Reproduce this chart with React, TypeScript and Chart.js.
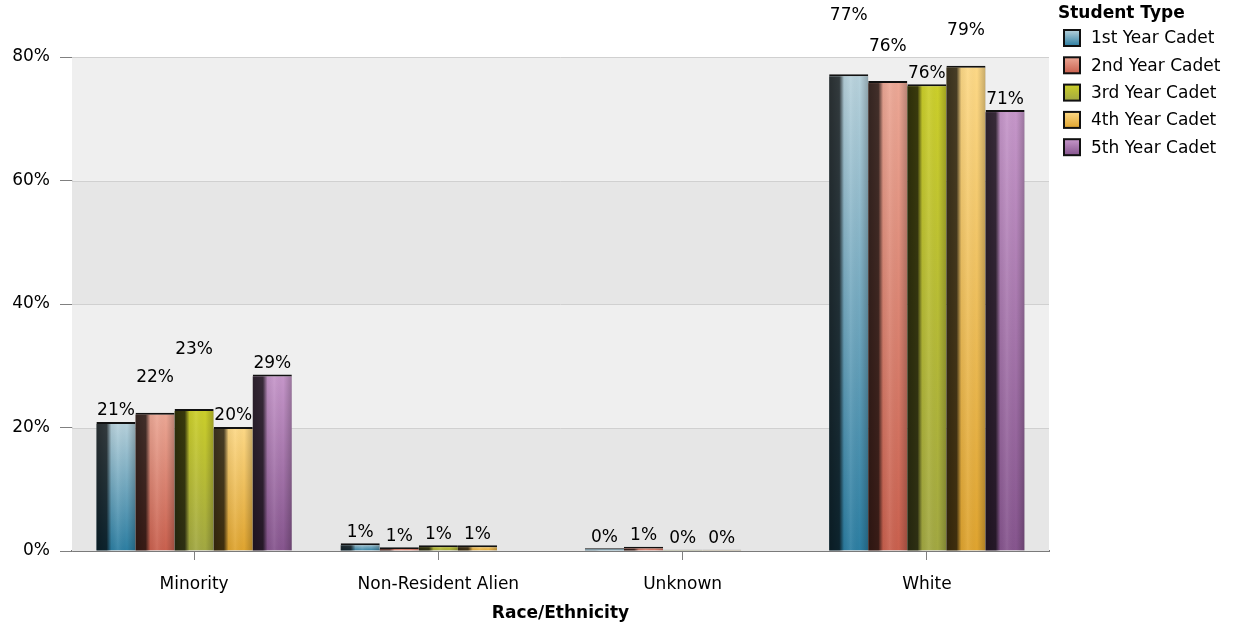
import React, { useEffect, useRef } from 'react';
import { Chart, registerables } from 'chart.js';

Chart.register(...registerables);

const categories = ['Minority', 'Non-Resident Alien', 'Unknown', 'White'];
const seriesNames = ['1st Year Cadet', '2nd Year Cadet', '3rd Year Cadet', '4th Year Cadet', '5th Year Cadet'];
const firstYear = [20.9, 1.25, 0.43, 77.2];
const secondYear = [22.4, 0.6, 0.7, 76.1];
const thirdYear = [23.0, 0.95, 0.2, 75.6];
const fourthYear = [20.1, 0.95, 0.2, 78.6];
const fifthYear: (number | null)[] = [28.6, null, null, 71.4];
const yTickValues = [0, 20, 40, 60, 80];

// styles (kept separate from the data)
const palette = [
  { top: '#b8d2dc', bottom: '#2c7ea2', legend: '#6ea2b8' },
  { top: '#eca896', bottom: '#c9604e', legend: '#d98574' },
  { top: '#cccf2a', bottom: '#a2a842', legend: '#b2b632' },
  { top: '#fdd987', bottom: '#dfa42f', legend: '#eec260' },
  { top: '#c697ca', bottom: '#86558e', legend: '#a675ad' },
];
// stacking level of each value label (per series, per category) to avoid overlap
const labelLevels = [
  [0, 0, 0, 2],
  [1, 0, 0, 1],
  [2, 0, 0, 0],
  [0, 0, 0, 1],
  [0, 0, 0, 0],
];
const FONT = '"DejaVu Sans", Verdana, sans-serif';
const FS = 17;

const seriesData = [firstYear, secondYear, thirdYear, fourthYear, fifthYear];

const bandsPlugin = {
  id: 'bands',
  beforeDatasetsDraw(chart: any) {
    const { ctx, chartArea, scales } = chart;
    const y = scales.y;
    ctx.save();
    for (let i = 0; i < yTickValues.length - 1; i++) {
      const y0 = y.getPixelForValue(yTickValues[i]);
      const y1 = y.getPixelForValue(yTickValues[i + 1]);
      ctx.fillStyle = i % 2 === 0 ? '#e6e6e6' : '#efefef';
      ctx.fillRect(chartArea.left, y1, chartArea.right - chartArea.left, y0 - y1);
      ctx.strokeStyle = '#d0d0d0';
      ctx.lineWidth = 1;
      ctx.beginPath();
      ctx.moveTo(chartArea.left, Math.round(y1) + 0.5);
      ctx.lineTo(chartArea.right, Math.round(y1) + 0.5);
      ctx.stroke();
    }
    ctx.restore();
  },
};

const shadePlugin = {
  id: 'shade',
  afterDatasetsDraw(chart: any) {
    const { ctx } = chart;
    ctx.save();
    chart.data.datasets.forEach((ds: any, di: number) => {
      const meta = chart.getDatasetMeta(di);
      meta.data.forEach((el: any, i: number) => {
        const v = ds.data[i];
        if (v === null || v === undefined) return;
        const p = el.getProps(['x', 'y', 'base', 'width'], true);
        const left = p.x - p.width / 2;
        const top = Math.min(p.y, p.base) + 2;
        const h = Math.abs(p.base - p.y) - 2;
        if (h <= 0) return;
        const g = ctx.createLinearGradient(left, 0, left + p.width, 0);
        g.addColorStop(0, 'rgba(0,0,0,0.78)');
        g.addColorStop(0.26, 'rgba(0,0,0,0.72)');
        g.addColorStop(0.38, 'rgba(0,0,0,0.05)');
        g.addColorStop(0.55, 'rgba(255,255,255,0.08)');
        g.addColorStop(0.78, 'rgba(0,0,0,0.0)');
        g.addColorStop(1, 'rgba(0,0,0,0.22)');
        ctx.fillStyle = g;
        ctx.fillRect(left, top, p.width, h);
      });
    });
    ctx.restore();
  },
};

const labelPlugin = {
  id: 'valueLabels',
  afterDatasetsDraw(chart: any) {
    const { ctx } = chart;
    ctx.save();
    ctx.font = `${FS}px ${FONT}`;
    ctx.fillStyle = '#000';
    ctx.textAlign = 'center';
    ctx.textBaseline = 'middle';
    chart.data.datasets.forEach((ds: any, di: number) => {
      const meta = chart.getDatasetMeta(di);
      meta.data.forEach((el: any, i: number) => {
        const v = ds.data[i];
        if (v === null || v === undefined) return;
        const p = el.getProps(['x', 'y'], true);
        const lvl = labelLevels[di][i] || 0;
        ctx.fillText(Math.round(v) + '%', p.x, p.y - 11 - lvl * 24);
      });
    });
    ctx.restore();
  },
};

const legendPlugin = {
  id: 'customLegend',
  afterDraw(chart: any) {
    const { ctx } = chart;
    ctx.save();
    ctx.fillStyle = '#000';
    ctx.textBaseline = 'middle';
    ctx.textAlign = 'left';
    ctx.font = `bold ${FS}px ${FONT}`;
    ctx.fillText('Student Type', 1058, 14);
    ctx.font = `${FS}px ${FONT}`;
    seriesNames.forEach((name, i) => {
      const cy = 38 + i * 27.3;
      const g = ctx.createLinearGradient(0, cy - 8, 0, cy + 8);
      g.addColorStop(0, palette[i].top);
      g.addColorStop(1, palette[i].bottom);
      ctx.fillStyle = g;
      ctx.fillRect(1064, cy - 8, 16, 16);
      ctx.strokeStyle = '#111';
      ctx.lineWidth = 2;
      ctx.strokeRect(1064, cy - 8, 16, 16);
      ctx.fillStyle = '#000';
      ctx.fillText(name, 1091, cy + 1);
    });
    ctx.restore();
  },
};

export default function App() {
  const ref = useRef<HTMLCanvasElement>(null);
  useEffect(() => {
    document.body.style.margin = '0';
    if (!ref.current) return;
    const chart = new Chart(ref.current, {
      type: 'bar',
      data: {
        labels: categories,
        datasets: seriesData.map((d, i) => ({
          label: seriesNames[i],
          data: d,
          backgroundColor: (c: any) => {
            const ch = c.chart;
            const ys = ch.scales && ch.scales.y;
            const v = c.raw;
            if (!ys || v === null || v === undefined || !ch.chartArea) return palette[i].legend;
            const t = ys.getPixelForValue(v);
            const b = ys.getPixelForValue(0);
            if (!isFinite(t) || !isFinite(b) || b - t < 1) return palette[i].bottom;
            const g = ch.ctx.createLinearGradient(0, t, 0, b);
            g.addColorStop(0, palette[i].top);
            g.addColorStop(1, palette[i].bottom);
            return g;
          },
          borderColor: '#111',
          borderWidth: { top: 2, left: 0, right: 0, bottom: 0 },
          borderSkipped: 'start',
          categoryPercentage: 0.8,
          barPercentage: 1.0,
        })),
      },
      options: {
        animation: false,
        responsive: false,
        maintainAspectRatio: false,
        layout: { padding: { top: 57, right: 184, left: 0, bottom: 0 } },
        plugins: {
          legend: { display: false },
          tooltip: { enabled: false },
        },
        scales: {
          x: {
            grid: { display: true, drawOnChartArea: false, offset: false, tickLength: 9, color: '#808080', tickColor: '#808080' },
            border: { display: true, color: '#7a7a7a', width: 2 },
            ticks: { font: { family: FONT, size: FS }, color: '#000', padding: 14 },
            title: {
              display: true,
              text: 'Race/Ethnicity',
              font: { family: FONT, size: FS, weight: 'bold' },
              color: '#000',
              padding: { top: 0, bottom: 5 },
            },
            afterFit: (s: any) => { s.height = 78; },
          },
          y: {
            min: 0,
            max: 80,
            ticks: {
              stepSize: 20,
              callback: (v: any) => v + '%',
              font: { family: FONT, size: FS },
              color: '#000',
              padding: 10,
            },
            grid: { display: true, drawOnChartArea: false, tickLength: 12, tickColor: '#808080' },
            border: { display: true, color: '#8a8a8a', width: 1 },
            afterFit: (s: any) => { s.width = 72; },
          },
        },
      },
      plugins: [bandsPlugin, shadePlugin, labelPlugin, legendPlugin],
    });
    return () => chart.destroy();
  }, []);
  return (
    <div style={{ width: 1233, height: 629 }}>
      <canvas ref={ref} width={1233} height={629} style={{ display: 'block', width: 1233, height: 629 }} />
    </div>
  );
}
